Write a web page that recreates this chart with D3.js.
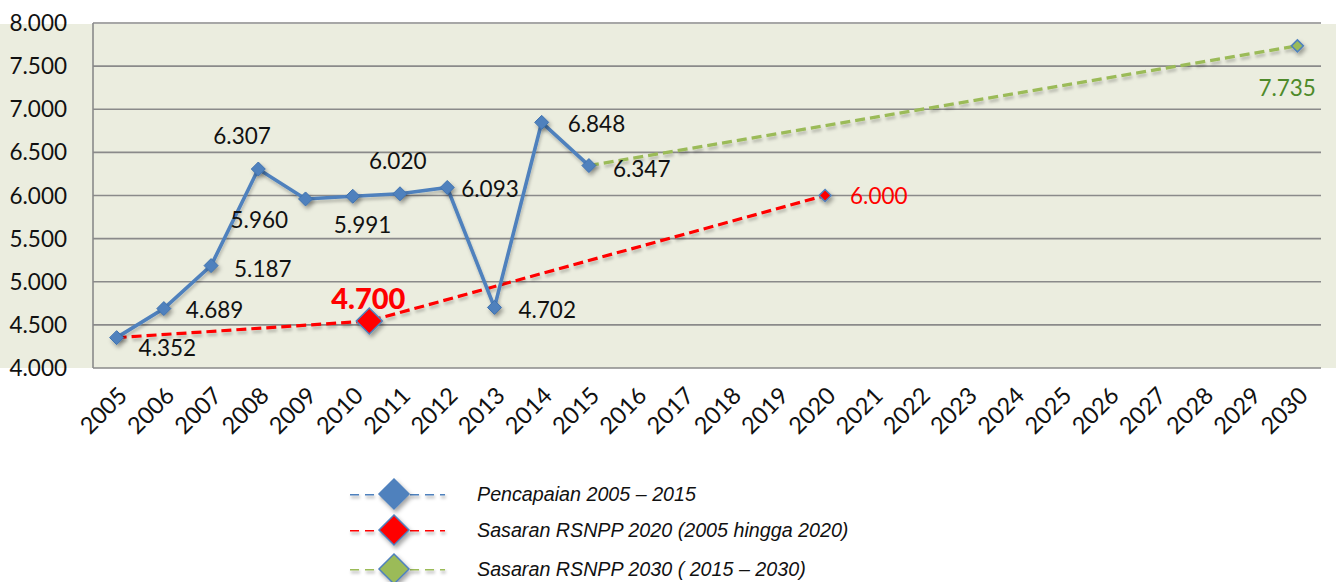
<!doctype html>
<html>
<head>
<meta charset="utf-8">
<script src="https://d3js.org/d3.v7.min.js"></script>
<style>
  body { margin: 0; background: #fff; }
  svg text { font-family: Lato, "Open Sans", sans-serif; }
  svg text.legend { font-family: "Liberation Sans", Arial, sans-serif; font-style: italic; }
</style>
</head>
<body>
<div id="chart"></div>
<script>
// years on the category axis
const years = d3.range(2005, 2031);
const yTicks = [4000, 4500, 5000, 5500, 6000, 6500, 7000, 7500, 8000];

// Pencapaian 2005 – 2015
const achievedYears = [2005, 2006, 2007, 2008, 2009, 2010, 2011, 2012, 2013, 2014, 2015];
const achievedValues = [4352, 4689, 5187, 6307, 5960, 5991, 6020, 6093, 4702, 6848, 6347];

// Sasaran RSNPP 2020 (the middle point sits between 2010 and 2011 on the picture)
const target2020Years = [2005, 2010.35, 2020];
const target2020Values = [4352, 4545, 6000];

// Sasaran RSNPP 2030
const target2030Years = [2015, 2030];
const target2030Values = [6347, 7735];

const legendLabels = [
  "Pencapaian 2005 \u2013 2015",
  "Sasaran RSNPP 2020 (2005 hingga 2020)",
  "Sasaran RSNPP 2030 ( 2015 \u2013 2030)"
];

// label offsets (layout only), [dx, dy] from the point
const achievedLabelOffsets = [
  [22, 10], [22, 1], [23, 3], [-45, -33], [-75, 21], [-19, 29],
  [-31, -33], [14, 1], [24, 2], [26, 2], [24, 3]
];

(function () {
  "use strict";

  const width = 1336, height = 582;
  const plotLeft = 93, plotRight = 1321, plotTop = 23, plotBottom = 368;

  const svg = d3.select("#chart").append("svg")
    .attr("width", width)
    .attr("height", height);

  const defs = svg.append("defs");
  const shadow = defs.append("filter").attr("id", "shadow")
    .attr("x", "-50%").attr("y", "-50%").attr("width", "200%").attr("height", "200%");
  shadow.append("feDropShadow")
    .attr("dx", 2).attr("dy", 3).attr("stdDeviation", 2)
    .attr("flood-color", "#000").attr("flood-opacity", 0.35);
  // user space region so flat horizontal lines still render
  const lineShadow = defs.append("filter").attr("id", "lineShadow")
    .attr("filterUnits", "userSpaceOnUse")
    .attr("x", 0).attr("y", 0).attr("width", width).attr("height", height);
  lineShadow.append("feDropShadow")
    .attr("dx", 1).attr("dy", 3).attr("stdDeviation", 1.5)
    .attr("flood-color", "#000").attr("flood-opacity", 0.22);

  // background of the chart area
  svg.append("rect")
    .attr("x", 0).attr("y", plotTop + 1)
    .attr("width", width).attr("height", plotBottom - plotTop - 1)
    .attr("fill", "#ebeddf");

  const band = (plotRight - plotLeft) / years.length;
  const x = d3.scaleLinear()
    .domain([2005, 2030])
    .range([plotLeft + band / 2, plotRight - band / 2]);
  const y = d3.scaleLinear()
    .domain([4000, 8000])
    .range([plotBottom, plotTop]);

  // gridlines
  svg.append("g")
    .selectAll("line")
    .data(yTicks)
    .join("line")
    .attr("x1", plotLeft).attr("x2", plotRight)
    .attr("y1", d => y(d)).attr("y2", d => y(d))
    .attr("stroke", "#8a8a8a")
    .attr("stroke-width", 1.6);

  svg.append("line")
    .attr("x1", plotLeft).attr("x2", plotLeft)
    .attr("y1", plotTop).attr("y2", plotBottom)
    .attr("stroke", "#8a8a8a")
    .attr("stroke-width", 1.6);

  // y tick labels
  const fmt = v => d3.format(".3f")(v / 1000);
  svg.append("g")
    .selectAll("text")
    .data(yTicks)
    .join("text")
    .attr("x", 67)
    .attr("y", d => y(d))
    .attr("dy", "0.36em")
    .attr("text-anchor", "end")
    .attr("font-size", 22.5)
    .attr("fill", "#111")
    .text(fmt);

  // x tick labels, rotated
  svg.append("g")
    .selectAll("text")
    .data(years)
    .join("text")
    .attr("transform", d => "translate(" + (x(d) + 6) + "," + 391 + ") rotate(-45)")
    .attr("text-anchor", "end")
    .attr("dy", "0.36em")
    .attr("font-size", 23.5)
    .attr("fill", "#111")
    .text(d => d);

  const line = d3.line().x(d => x(d[0])).y(d => y(d[1]));
  // diamond marker of half-diagonal r
  const diamondPath = r => "M0," + (-r) + "L" + r + ",0L0," + r + "L" + (-r) + ",0Z";

  const achieved = d3.zip(achievedYears, achievedValues);
  const t2020 = d3.zip(target2020Years, target2020Values);
  const t2030 = d3.zip(target2030Years, target2030Values);

  // green target line
  svg.append("path")
    .datum(t2030)
    .attr("d", line)
    .attr("fill", "none")
    .attr("stroke", "#9bbb59")
    .attr("stroke-width", 3.2)
    .attr("stroke-dasharray", "10,5")
    .attr("filter", "url(#lineShadow)");

  // red target line
  svg.append("path")
    .datum(t2020)
    .attr("d", line)
    .attr("fill", "none")
    .attr("stroke", "#ff0000")
    .attr("stroke-width", 3.2)
    .attr("stroke-dasharray", "10,5")
    .attr("filter", "url(#lineShadow)");

  // blue achieved line
  svg.append("path")
    .datum(achieved)
    .attr("d", line)
    .attr("fill", "none")
    .attr("stroke", "#4f81bd")
    .attr("stroke-width", 3.6)
    .attr("filter", "url(#lineShadow)");

  svg.append("g")
    .selectAll("path")
    .data(achieved)
    .join("path")
    .attr("transform", d => "translate(" + x(d[0]) + "," + y(d[1]) + ")")
    .attr("d", diamondPath(7))
    .attr("fill", "#4f81bd")
    .attr("stroke", "#3f72b0")
    .attr("stroke-width", 1)
    .attr("filter", "url(#shadow)");

  // red markers: the big one in the middle, small one at 2020
  svg.append("path")
    .attr("transform", "translate(" + x(t2020[1][0]) + "," + y(t2020[1][1]) + ")")
    .attr("d", diamondPath(13))
    .attr("fill", "#ff0000")
    .attr("stroke", "#4f81bd")
    .attr("stroke-width", 1.5)
    .attr("filter", "url(#shadow)");
  svg.append("path")
    .attr("transform", "translate(" + x(t2020[2][0]) + "," + y(t2020[2][1]) + ")")
    .attr("d", diamondPath(6))
    .attr("fill", "#ff0000")
    .attr("stroke", "#4f81bd")
    .attr("stroke-width", 1.5)
    .attr("filter", "url(#shadow)");

  // green marker at 2030
  svg.append("path")
    .attr("transform", "translate(" + x(t2030[1][0]) + "," + y(t2030[1][1]) + ")")
    .attr("d", diamondPath(6))
    .attr("fill", "#9bbb59")
    .attr("stroke", "#4f81bd")
    .attr("stroke-width", 1.5)
    .attr("filter", "url(#shadow)");

  // data labels
  svg.append("g")
    .selectAll("text")
    .data(achieved)
    .join("text")
    .attr("x", (d, i) => x(d[0]) + achievedLabelOffsets[i][0])
    .attr("y", (d, i) => y(d[1]) + achievedLabelOffsets[i][1])
    .attr("dy", "0.36em")
    .attr("font-size", 22.5)
    .attr("fill", "#111")
    .text(d => fmt(d[1]));

  svg.append("text")
    .attr("x", x(t2020[1][0]) - 1)
    .attr("y", y(t2020[1][1]) - 22)
    .attr("dy", "0.36em")
    .attr("text-anchor", "middle")
    .attr("font-size", 29)
    .attr("font-weight", 900)
    .attr("fill", "#ff0000")
    .text("4.700");

  svg.append("text")
    .attr("x", x(t2020[2][0]) + 25)
    .attr("y", y(t2020[2][1]))
    .attr("dy", "0.36em")
    .attr("font-size", 22.5)
    .attr("fill", "#ff0000")
    .text(fmt(t2020[2][1]));

  svg.append("text")
    .attr("x", x(t2030[1][0]) - 39)
    .attr("y", y(t2030[1][1]) + 42)
    .attr("dy", "0.36em")
    .attr("font-size", 22.5)
    .attr("fill", "#4e8a2a")
    .text(fmt(t2030[1][1]));

  // legend
  const legendColors = ["#4f81bd", "#ff0000", "#9bbb59"];
  const legendY = [494, 530, 569];
  const lg = svg.append("g");
  legendLabels.forEach((label, i) => {
    const g = lg.append("g").attr("transform", "translate(0," + legendY[i] + ")");
    g.append("line")
      .attr("x1", 350).attr("x2", 445)
      .attr("y1", 0).attr("y2", 0)
      .attr("stroke", legendColors[i])
      .attr("stroke-width", 3.2)
      .attr("stroke-dasharray", "9,6")
      .attr("filter", "url(#lineShadow)");
    g.append("path")
      .attr("transform", "translate(394,0)")
      .attr("d", diamondPath(15))
      .attr("fill", legendColors[i])
      .attr("stroke", "#4f81bd")
      .attr("stroke-width", 1.5)
      .attr("filter", "url(#shadow)");
    g.append("text")
      .attr("class", "legend")
      .attr("x", 477)
      .attr("dy", "0.36em")
      .attr("font-size", 19.7)
      .attr("fill", "#111")
      .text(label);
  });
})();
</script>
</body>
</html>
